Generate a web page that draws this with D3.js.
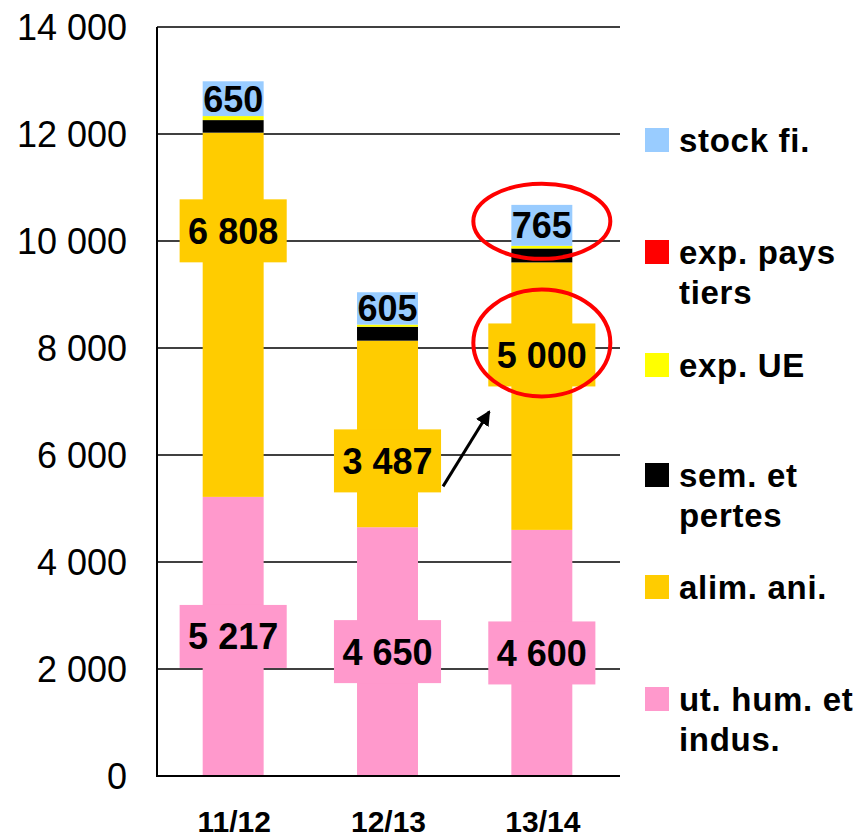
<!DOCTYPE html>
<html><head><meta charset="utf-8">
<script src="https://cdn.jsdelivr.net/npm/d3@7/dist/d3.min.js"></script>
<style>
html,body{margin:0;padding:0;background:#fff;}
svg{display:block;font-family:"Liberation Sans",Arial,sans-serif;}
</style></head>
<body>
<svg id="chart" width="859" height="839"></svg>
<script>
// ---- data ----
const categories = ["11/12", "12/13", "13/14"];
const seriesNames = ["ut. hum. et indus.", "alim. ani.", "sem. et pertes", "exp. UE", "exp. pays tiers", "stock fi."];
const legendLines = [["ut. hum. et", "indus."], ["alim. ani."], ["sem. et", "pertes"], ["exp. UE"], ["exp. pays", "tiers"], ["stock fi."]];
const utHum   = [5217, 4650, 4600];
const alimAni = [6808, 3487, 5000];
const semPert = [235, 260, 260];
const expUE   = [75, 40, 50];
const expPT   = [0, 0, 0];
const stockFi = [650, 605, 765];
const colors  = ["#FF99CC", "#FFCC00", "#000000", "#FFFF00", "#FF0000", "#99CCFF"];
const yTicks  = [0, 2000, 4000, 6000, 8000, 10000, 12000, 14000];
// where the (moved) alim. ani. labels sit, in value units
const alimLabelAt = [10190, 5890, 7870];

const seriesValues = [utHum, alimAni, semPert, expUE, expPT, stockFi];

const svg = d3.select("#chart");
const x = d3.scaleBand().domain(categories).range([156, 619]).paddingInner(0.605).paddingOuter(0.3025);
const y = d3.scaleLinear().domain([0, 14000]).range([776, 27]);

const fmt = v => d3.format(",")(v).replace(/,/g, " ");

// gridlines
svg.append("g").selectAll("line").data(yTicks.filter(d => d > 0)).join("line")
  .attr("x1", 157).attr("x2", 620)
  .attr("y1", d => y(d)).attr("y2", d => y(d))
  .attr("stroke", "#000").attr("stroke-width", 1.6);

// y tick labels
svg.append("g").selectAll("text").data(yTicks).join("text")
  .attr("x", 127).attr("y", d => y(d) + 12.5)
  .attr("text-anchor", "end").attr("font-size", 36).attr("fill", "#000")
  .text(d => fmt(d));

// stacked data
const rows = categories.map((c, i) => {
  const o = {cat: c};
  seriesNames.forEach((s, k) => o[s] = seriesValues[k][i]);
  return o;
});
const stack = d3.stack().keys(seriesNames)(rows);

const gBars = svg.append("g");
stack.forEach((layer, k) => {
  gBars.append("g").attr("fill", colors[k]).selectAll("rect").data(layer).join("rect")
    .attr("x", d => x(d.data.cat)).attr("width", x.bandwidth())
    .attr("y", d => y(d[1])).attr("height", d => Math.max(0, y(d[0]) - y(d[1])));
});

// axes lines
svg.append("line").attr("x1", 157).attr("x2", 157).attr("y1", 27).attr("y2", 777)
  .attr("stroke", "#000").attr("stroke-width", 2);
svg.append("line").attr("x1", 156).attr("x2", 620).attr("y1", 776).attr("y2", 776)
  .attr("stroke", "#000").attr("stroke-width", 2);

// category labels
svg.append("g").selectAll("text").data(categories).join("text")
  .attr("x", d => x(d) + x.bandwidth() / 2 + 1).attr("y", 832)
  .attr("text-anchor", "middle").attr("font-size", 30).attr("font-weight", "bold")
  .text(d => d);

// data labels with boxes
const labels = [];
categories.forEach((c, i) => {
  labels.push({cat: c, value: utHum[i], at: utHum[i] / 2, color: colors[0], box: true});
  labels.push({cat: c, value: alimAni[i], at: alimLabelAt[i], color: colors[1], box: true});
  const base = utHum[i] + alimAni[i] + semPert[i] + expUE[i] + expPT[i];
  labels.push({cat: c, value: stockFi[i], at: base + stockFi[i] / 2, color: colors[5], box: false});
});
const gLab = svg.append("g");
const boxes = {};
labels.forEach(l => {
  const cx = x(l.cat) + x.bandwidth() / 2;
  const cy = y(l.at);
  const g = gLab.append("g");
  const rect = g.append("rect");
  const t = g.append("text").attr("x", cx).attr("y", cy + 13)
    .attr("text-anchor", "middle").attr("font-size", 36).attr("font-weight", "bold")
    .text(fmt(l.value));
  if (l.box) {
    const w = t.node().getComputedTextLength() + 17;
    const h = 63;
    rect.attr("x", cx - w / 2).attr("y", cy - h / 2).attr("width", w).attr("height", h).attr("fill", l.color);
    if (l.color === colors[1]) boxes[l.cat] = {x0: cx - w / 2, x1: cx + w / 2, y0: cy - h / 2, y1: cy + h / 2, cx, cy};
  } else {
    rect.remove();
  }
});

// arrow from 12/13 alim label to 13/14 alim label
const defs = svg.append("defs");
defs.append("marker").attr("id", "ah").attr("viewBox", "0 0 10 10")
  .attr("refX", 9).attr("refY", 5).attr("markerWidth", 5).attr("markerHeight", 5)
  .attr("orient", "auto").attr("markerUnits", "strokeWidth")
  .append("path").attr("d", "M0,0 L10,5 L0,10 Z").attr("fill", "#000");
const b2 = boxes["12/13"], b3 = boxes["13/14"];
svg.append("line")
  .attr("x1", b2.x1 + 2).attr("y1", b2.y1 - 6)
  .attr("x2", b3.x0 + 1).attr("y2", b3.y1 + 25)
  .attr("stroke", "#000").attr("stroke-width", 3).attr("marker-end", "url(#ah)");

// red ellipses
const c3 = x("13/14") + x.bandwidth() / 2;
const top3 = utHum[2] + alimAni[2] + semPert[2] + expUE[2] + expPT[2] + stockFi[2] / 2;
svg.append("ellipse").attr("cx", c3).attr("cy", y(top3) - 4).attr("rx", 68.5).attr("ry", 37.5)
  .attr("fill", "none").attr("stroke", "#FF0000").attr("stroke-width", 4);
svg.append("ellipse").attr("cx", c3).attr("cy", b3.cy - 12).attr("rx", 68.5).attr("ry", 53.5)
  .attr("fill", "none").attr("stroke", "#FF0000").attr("stroke-width", 4);

// legend (top to bottom: reversed stack order)
const legTop = [128, 240, 353, 463, 575, 687];
const order = d3.range(seriesNames.length).reverse();
const gLeg = svg.append("g");
order.forEach((k, j) => {
  const ty = legTop[j];
  gLeg.append("rect").attr("x", 645).attr("y", ty).attr("width", 24).attr("height", 24).attr("fill", colors[k]);
  const t = gLeg.append("text").attr("x", 679).attr("y", ty + 24)
    .attr("font-size", 33).attr("font-weight", "bold").attr("letter-spacing", 0.7);
  legendLines[k].forEach((ln, m) => {
    t.append("tspan").attr("x", 679).attr("dy", m === 0 ? 0 : 40).text(ln);
  });
});
</script>
</body></html>
